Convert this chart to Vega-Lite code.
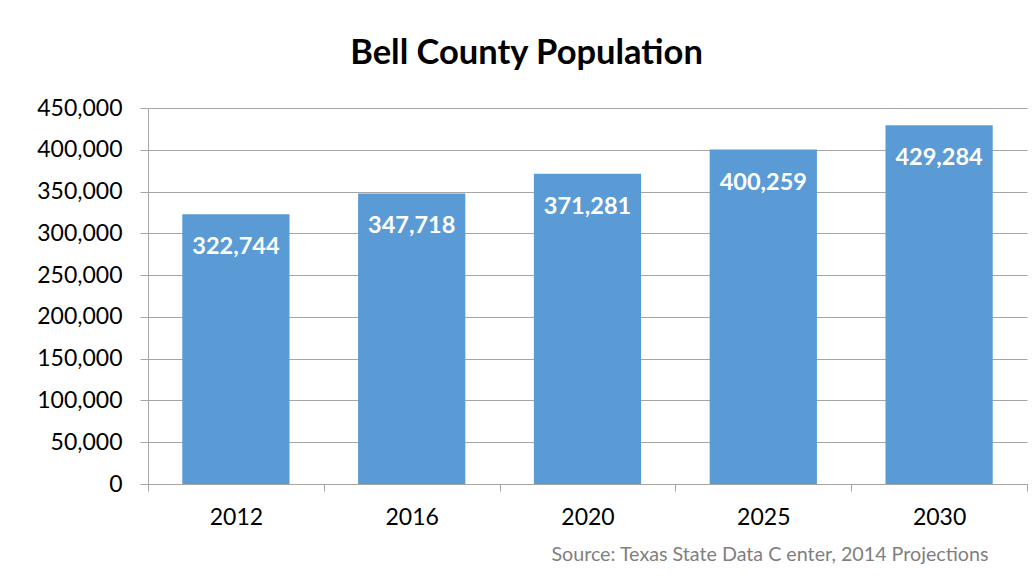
{
  "$schema": "https://vega.github.io/schema/vega-lite/v6.json",
  "width": 879,
  "height": 376,
  "autosize": "none",
  "padding": {"left": 148, "top": 108, "right": 7, "bottom": 104},
  "background": "white",
  "title": {
    "text": "Bell County Population",
    "font": "Lato",
    "fontSize": 34.5,
    "fontWeight": "bold",
    "color": "#000000",
    "anchor": "middle",
    "dx": -61,
    "offset": 26
  },
  "data": {
    "values": [
      {"year": "2012", "population": 322744},
      {"year": "2016", "population": 347718},
      {"year": "2020", "population": 371281},
      {"year": "2025", "population": 400259},
      {"year": "2030", "population": 429284}
    ]
  },
  "config": {
    "view": {"stroke": null},
    "font": "Lato"
  },
  "encoding": {
    "x": {
      "field": "year",
      "type": "ordinal",
      "sort": null,
      "scale": {"paddingInner": 0, "paddingOuter": 0},
      "axis": {
        "title": "Source: Texas State Data C enter, 2014 Projections",
        "titleFont": "Lato",
        "titleFontSize": 19.7,
        "titleFontWeight": "normal",
        "titleColor": "#7f7f7f",
        "titleAnchor": "end",
        "titleAlign": "right",
        "titleX": 840,
        "titleY": 76,
        "titleBaseline": "alphabetic",
        "labelAngle": 0,
        "labelFont": "Lato",
        "labelFontSize": 23,
        "labelColor": "#000000",
        "labelPadding": 15,
        "domainColor": "#a6a6a6",
        "tickColor": "#a6a6a6",
        "tickSize": 7,
        "tickBand": "extent",
        "grid": false
      }
    },
    "y": {
      "field": "population",
      "type": "quantitative",
      "scale": {"domain": [0, 450000], "nice": false},
      "axis": {
        "title": null,
        "values": [0, 50000, 100000, 150000, 200000, 250000, 300000, 350000, 400000, 450000],
        "format": ",d",
        "labelFont": "Lato",
        "labelFontSize": 23,
        "labelColor": "#000000",
        "labelPadding": 18,
        "domainColor": "#a6a6a6",
        "tickColor": "#a6a6a6",
        "tickSize": 8,
        "gridColor": "#a6a6a6",
        "gridWidth": 1
      }
    }
  },
  "layer": [
    {"mark": {"type": "bar", "color": "#5b9bd5", "width": {"band": 0.61}}},
    {
      "mark": {
        "type": "text",
        "color": "white",
        "font": "Lato",
        "fontWeight": "bold",
        "fontSize": 23.5,
        "baseline": "middle",
        "dy": 33
      },
      "encoding": {"text": {"field": "population", "type": "quantitative", "format": ",d"}}
    }
  ]
}
